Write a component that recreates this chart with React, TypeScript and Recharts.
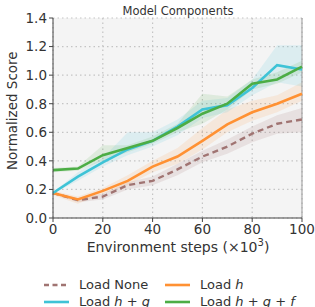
import React from "react";
import {
  ComposedChart,
  Line,
  Area,
  XAxis,
  YAxis,
  CartesianGrid,
  ReferenceLine,
} from "recharts";

// environment steps (x10^3)
const steps = [0, 10, 20, 30, 40, 50, 60, 70, 80, 90, 100];

const loadNone = [0.175, 0.125, 0.15, 0.23, 0.26, 0.34, 0.43, 0.5, 0.59, 0.66, 0.69];
const loadNoneLo = [0.17, 0.11, 0.13, 0.2, 0.23, 0.3, 0.39, 0.45, 0.53, 0.59, 0.6];
const loadNoneHi = [0.18, 0.14, 0.17, 0.25, 0.29, 0.38, 0.47, 0.55, 0.64, 0.72, 0.77];

const loadH = [0.175, 0.13, 0.19, 0.26, 0.36, 0.43, 0.54, 0.655, 0.74, 0.8, 0.87];
const loadHLo = [0.16, 0.1, 0.17, 0.23, 0.32, 0.38, 0.48, 0.6, 0.68, 0.74, 0.82];
const loadHHi = [0.19, 0.15, 0.21, 0.3, 0.4, 0.49, 0.63, 0.76, 0.82, 0.86, 0.95];

const loadHG = [0.175, 0.29, 0.39, 0.48, 0.54, 0.64, 0.76, 0.79, 0.91, 1.07, 1.04];
const loadHGLo = [0.17, 0.26, 0.36, 0.44, 0.5, 0.58, 0.7, 0.74, 0.86, 0.95, 0.92];
const loadHGHi = [0.18, 0.32, 0.42, 0.6, 0.6, 0.69, 0.82, 0.84, 0.97, 1.21, 1.21];

const loadHGF = [0.335, 0.346, 0.44, 0.49, 0.54, 0.63, 0.73, 0.8, 0.94, 0.97, 1.06];
const loadHGFLo = [0.32, 0.33, 0.4, 0.46, 0.52, 0.6, 0.66, 0.76, 0.9, 0.94, 1.02];
const loadHGFHi = [0.35, 0.36, 0.51, 0.51, 0.57, 0.66, 0.87, 0.85, 0.97, 1.02, 1.1];

const xTicks = [0, 20, 40, 60, 80, 100];
const yTicks = [0, 0.2, 0.4, 0.6, 0.8, 1.0, 1.2, 1.4];

const colors = {
  none: "#a07472",
  h: "#ff9133",
  hg: "#3ec3d6",
  hgf: "#4cad45",
};

const data = steps.map((s, i) => ({
  step: s,
  none: loadNone[i],
  noneBand: [loadNoneLo[i], loadNoneHi[i]],
  h: loadH[i],
  hBand: [loadHLo[i], loadHHi[i]],
  hg: loadHG[i],
  hgBand: [loadHGLo[i], loadHGHi[i]],
  hgf: loadHGF[i],
  hgfBand: [loadHGFLo[i], loadHGFHi[i]],
}));

const font = "'DejaVu Sans', sans-serif";
const tickStyle = { fontSize: 13.5, fill: "#333", fontFamily: font };

const LegendItem = ({ color, dashed, children }: any) => (
  <div style={{ display: "flex", alignItems: "center", width: 121, height: 17, flexShrink: 0, whiteSpace: "nowrap" }}>
    <svg width={25} height={6} style={{ marginRight: 10, flexShrink: 0 }}>
      <line
        x1={0}
        y1={3}
        x2={25}
        y2={3}
        stroke={color}
        strokeWidth={2.6}
        strokeDasharray={dashed ? "5 3.5" : undefined}
      />
    </svg>
    <span>{children}</span>
  </div>
);

export default function App() {
  return (
    <div style={{ position: "absolute", left: 0, top: 0, width: 315, height: 307, overflow: "hidden", background: "#fff" }}>
      <ComposedChart
        width={315}
        height={307}
        data={data}
        margin={{ top: 18, right: 13, left: 8, bottom: 59 }}
      >
        <CartesianGrid
          stroke="#c4c4c4"
          strokeDasharray="1.5 3"
          strokeWidth={1.2}
          fill="#f4f4f4"
        />
        <XAxis
          dataKey="step"
          type="number"
          domain={[0, 100]}
          ticks={xTicks}
          height={30}
          stroke="#444"
          tickSize={4}
          tick={tickStyle}
          interval={0}
        />
        <YAxis
          type="number"
          domain={[0, 1.4]}
          ticks={yTicks}
          width={45}
          stroke="#444"
          tickSize={4}
          tick={tickStyle}
          interval={0}
          tickFormatter={(v: number) => v.toFixed(1)}
          label={{
            value: "Normalized Score",
            angle: -90,
            position: "insideLeft",
            dx: -1,
            dy: 52,
            style: { fontSize: 13.5, fill: "#333", fontFamily: font },
          }}
        />
        <ReferenceLine x={100} stroke="#999" strokeWidth={1} />
        <Area dataKey="noneBand" stroke="none" fill={colors.none} fillOpacity={0.15} isAnimationActive={false} />
        <Area dataKey="hBand" stroke="none" fill={colors.h} fillOpacity={0.13} isAnimationActive={false} />
        <Area dataKey="hgBand" stroke="none" fill={colors.hg} fillOpacity={0.13} isAnimationActive={false} />
        <Area dataKey="hgfBand" stroke="none" fill={colors.hgf} fillOpacity={0.13} isAnimationActive={false} />
        <Line dataKey="none" stroke={colors.none} strokeWidth={2.4} strokeDasharray="6 4" dot={false} isAnimationActive={false} />
        <Line dataKey="h" stroke={colors.h} strokeWidth={2.6} dot={false} isAnimationActive={false} />
        <Line dataKey="hg" stroke={colors.hg} strokeWidth={2.6} dot={false} isAnimationActive={false} />
        <Line dataKey="hgf" stroke={colors.hgf} strokeWidth={2.6} dot={false} isAnimationActive={false} />
        <text x={178} y={15} textAnchor="middle" fontSize={11.5} fill="#333" fontFamily={font}>
          Model Components
        </text>
        <text x={178} y={252} textAnchor="middle" fontSize={14} fill="#333" fontFamily={font}>
          Environment steps (×10
          <tspan dy={-6} fontSize={10}>3</tspan>
          <tspan dy={6}>)</tspan>
        </text>
      </ComposedChart>
      <div
        style={{
          position: "absolute",
          left: 44,
          top: 276,
          display: "flex",
          flexWrap: "wrap",
          width: 242,
          fontFamily: font,
          fontSize: 13,
          color: "#333",
          lineHeight: "17px",
        }}
      >
        <LegendItem color={colors.none} dashed>Load None</LegendItem>
        <LegendItem color={colors.h}>Load <i>h</i></LegendItem>
        <LegendItem color={colors.hg}>Load <i>h</i> + <i>g</i></LegendItem>
        <LegendItem color={colors.hgf}>Load <i>h</i> + <i>g</i> + <i>f</i></LegendItem>
      </div>
    </div>
  );
}
